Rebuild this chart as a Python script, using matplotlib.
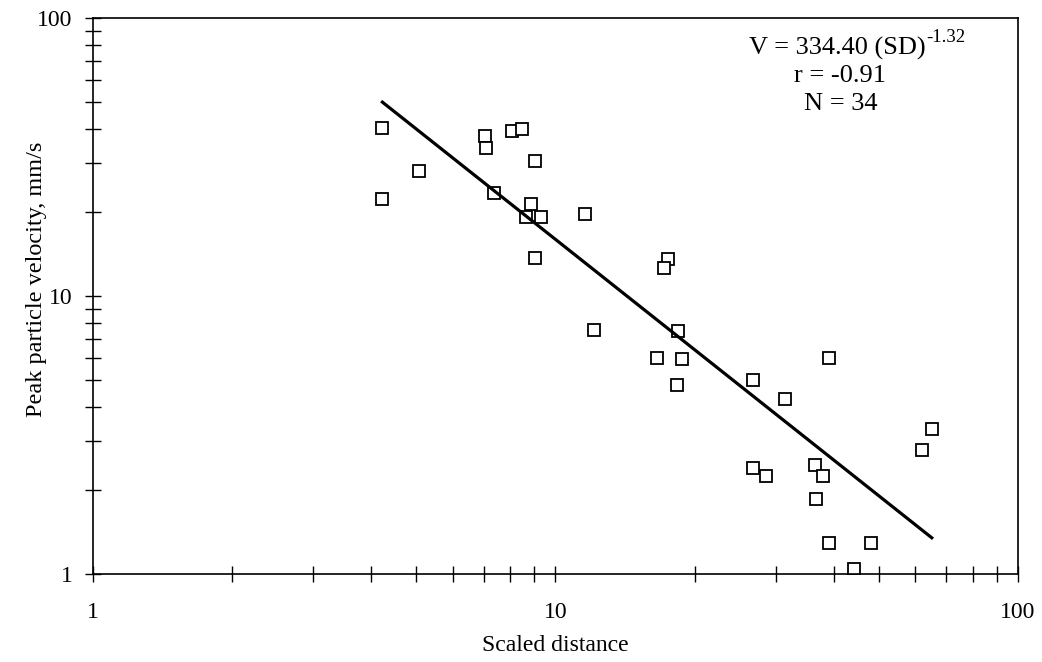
import matplotlib
matplotlib.use("Agg")
import matplotlib.pyplot as plt
import numpy as np
from matplotlib.ticker import LogLocator, FuncFormatter, NullFormatter

# Data (scaled distance, peak particle velocity mm/s)
scaled_dist = [4.23, 4.23, 5.08, 7.06, 7.10, 8.07, 8.49, 9.04, 7.37, 8.84,
               8.66, 9.33, 11.6, 9.02, 17.5, 17.2, 12.1, 18.4, 16.6, 18.8,
               18.3, 26.8, 31.3, 39.0, 65.1, 61.9, 26.8, 28.6, 36.5, 37.8,
               36.6, 39.1, 48.2, 44.3]
ppv = [40.2, 22.3, 28.2, 37.7, 34.1, 39.1, 39.8, 30.7, 23.5, 21.5,
       19.2, 19.2, 19.7, 13.7, 13.6, 12.6, 7.56, 7.48, 6.0, 5.95,
       4.80, 4.97, 4.25, 5.97, 3.33, 2.80, 2.40, 2.26, 2.47, 2.26,
       1.86, 1.29, 1.29, 1.04]

# Regression: V = 334.40 (SD)^-1.32
fit_k = 334.40
fit_b = -1.32

plt.rcParams['font.family'] = ['Liberation Serif', 'DejaVu Serif']

fig = plt.figure(figsize=(10.42, 6.62), dpi=100)
ax = fig.add_axes([0.0888, 0.1329, 0.8882, 0.8399])

ax.set_xscale('log')
ax.set_yscale('log')
ax.set_xlim(1, 100)
ax.set_ylim(1, 100)

# scatter
ax.plot(scaled_dist, ppv, linestyle='none', marker='s', markersize=8,
        markerfacecolor='white', markeredgecolor='black', markeredgewidth=1.3)

# regression line over the data range
xs = np.logspace(np.log10(min(scaled_dist)), np.log10(max(scaled_dist)), 50)
ax.plot(xs, fit_k * xs ** fit_b, color='black', linewidth=2.3)

# ticks
fmt = FuncFormatter(lambda v, p: "%d" % v)
for axis in (ax.xaxis, ax.yaxis):
    axis.set_major_locator(LogLocator(base=10, numticks=10))
    axis.set_minor_locator(LogLocator(base=10, subs=np.arange(2, 10), numticks=10))
    axis.set_major_formatter(fmt)
    axis.set_minor_formatter(NullFormatter())

ax.tick_params(which='both', direction='inout', length=11, width=1.0,
               top=False, right=False, labelsize=17, color='black')
ax.tick_params(axis='x', which='both', pad=15)
ax.tick_params(axis='y', which='both', pad=9)

for s in ax.spines.values():
    s.set_linewidth(1.2)

ax.set_xlabel('Scaled distance', fontsize=17, labelpad=8)
ax.set_ylabel('Peak particle velocity, mm/s', fontsize=17.5)
ax.yaxis.set_label_coords(-0.049, 0.53)

# equation text
t1 = ax.text(0.805, 0.945, 'V = 334.40 (SD)', transform=ax.transAxes,
             ha='center', va='center', fontsize=19)
ax.annotate('-1.32', xy=(1, 1), xycoords=t1, xytext=(0, 0),
            textcoords='offset points', ha='left', va='center', fontsize=13.5)
ax.text(0.808, 0.895, 'r = -0.91', transform=ax.transAxes,
        ha='center', va='center', fontsize=19)
ax.text(0.808, 0.845, 'N = 34', transform=ax.transAxes,
        ha='center', va='center', fontsize=19)

fig.savefig('out.png', dpi=100)
